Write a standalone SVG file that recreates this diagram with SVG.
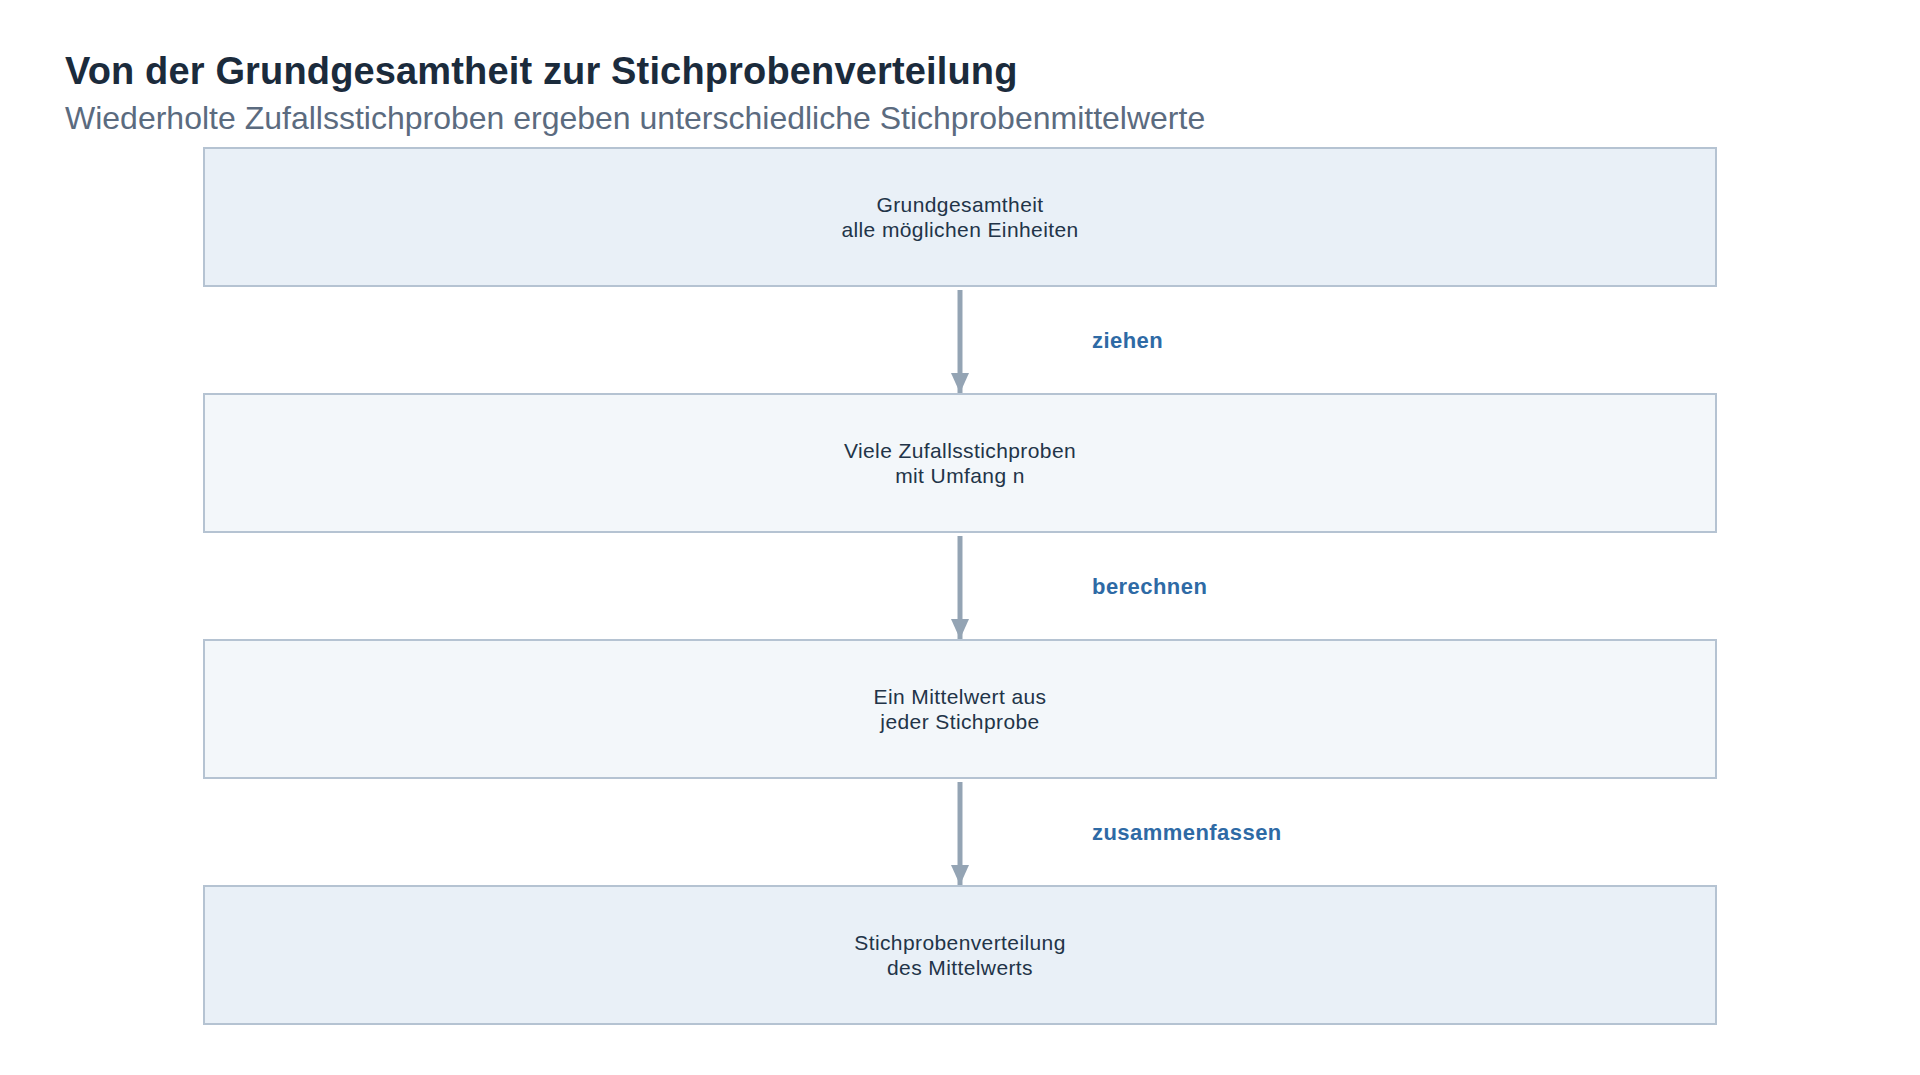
<svg xmlns="http://www.w3.org/2000/svg" width="1920" height="1075" viewBox="0 0 1920 1075">
<defs>
<style>
.title{font-family:"Liberation Sans",Arial,sans-serif;font-weight:bold;font-size:38px;letter-spacing:0.15px;fill:#1b2b3c}
.sub{font-family:"Liberation Sans",Arial,sans-serif;font-size:32px;fill:#5b6b7f}
.box1{fill:#e9f0f7;stroke:#b5c3d2;stroke-width:2}
.box2{fill:#f3f7fa;stroke:#b5c3d2;stroke-width:2}
.nt{font-family:"Liberation Sans",Arial,sans-serif;font-size:21px;letter-spacing:0.4px;fill:#223448;text-anchor:middle}
.lbl{font-family:"Liberation Sans",Arial,sans-serif;font-weight:bold;font-size:22px;letter-spacing:0.45px;fill:#2e6aa5}
.edge{stroke:#94a4b4;stroke-width:5;fill:none}
</style>
<marker id="ah" viewBox="0 0 20 18" refX="20" refY="9" markerWidth="20" markerHeight="18" markerUnits="userSpaceOnUse" orient="auto">
<path d="M0,0 L20,9 L0,18 Z" fill="#94a4b4"/>
</marker>
</defs>
<rect width="1920" height="1075" fill="#ffffff"/>
<text class="title" x="65" y="84">Von der Grundgesamtheit zur Stichprobenverteilung</text>
<text class="sub" x="65" y="129">Wiederholte Zufallsstichproben ergeben unterschiedliche Stichprobenmittelwerte</text>
<g id="connectors">
<g id="e1"><line class="edge" x1="960" y1="290" x2="960" y2="393" marker-end="url(#ah)"/><text class="lbl" x="1092" y="348">ziehen</text></g>
<g id="e2"><line class="edge" x1="960" y1="536" x2="960" y2="639" marker-end="url(#ah)"/><text class="lbl" x="1092" y="594">berechnen</text></g>
<g id="e3"><line class="edge" x1="960" y1="782" x2="960" y2="885" marker-end="url(#ah)"/><text class="lbl" x="1092" y="840">zusammenfassen</text></g>
</g>
<g id="n1"><rect class="box1" x="204" y="148" width="1512" height="138"/><text class="nt" x="960" y="212">Grundgesamtheit</text><text class="nt" x="960" y="237">alle möglichen Einheiten</text></g>
<g id="n2"><rect class="box2" x="204" y="394" width="1512" height="138"/><text class="nt" x="960" y="458">Viele Zufallsstichproben</text><text class="nt" x="960" y="483">mit Umfang n</text></g>
<g id="n3"><rect class="box2" x="204" y="640" width="1512" height="138"/><text class="nt" x="960" y="704">Ein Mittelwert aus</text><text class="nt" x="960" y="729">jeder Stichprobe</text></g>
<g id="n4"><rect class="box1" x="204" y="886" width="1512" height="138"/><text class="nt" x="960" y="950">Stichprobenverteilung</text><text class="nt" x="960" y="975">des Mittelwerts</text></g>
</svg>
